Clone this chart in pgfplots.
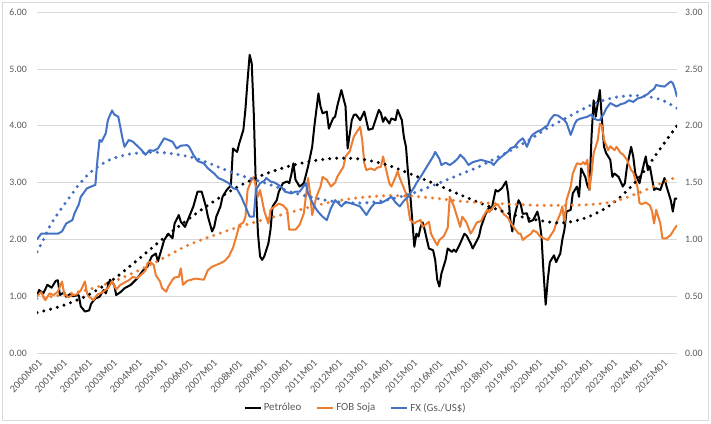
\documentclass[border=0pt]{standalone}
\usepackage{fontspec}
\setmainfont{Carlito}
\usepackage{pgfplots}
\pgfplotsset{compat=1.18}
\definecolor{soja}{HTML}{ED7D31}
\definecolor{fxb}{HTML}{4472C4}
\definecolor{gridc}{HTML}{D9D9D9}
\definecolor{labc}{HTML}{595959}
\begin{document}
\begin{tikzpicture}[x=1pt,y=1pt]
\path[use as bounding box] (0,0) rectangle (711,423);
\draw[gridc, line width=0.75pt] (2.5,2.5) rectangle (708.5,420.5);
\pgfplotsset{
  common/.style={
    at={(37pt,70pt)}, anchor=south west, scale only axis,
    width=640pt, height=340.8pt,
    xmin=0, xmax=307, ymin=0,
    axis line style={draw=none}, tick style={draw=none},
  },
  trend/.style={line width=3.4pt, dash pattern=on 0pt off 7pt, line cap=round, smooth, forget plot},
  series/.style={line width=2pt, line join=round},
}
\begin{axis}[common, ymax=6, ytick={0,1,2,3,4,5,6},
  ymajorgrids, grid style={gridc, line width=0.75pt},
  xtick={0,12,...,300},
  xticklabels={2000M01,2001M01,2002M01,2003M01,2004M01,2005M01,2006M01,2007M01,2008M01,2009M01,2010M01,2011M01,2012M01,2013M01,2014M01,2015M01,2016M01,2017M01,2018M01,2019M01,2020M01,2021M01,2022M01,2023M01,2024M01,2025M01},
  xticklabel style={xshift=1pt, yshift=-6pt, rotate=45, anchor=north east, inner sep=0pt, font=\fontsize{10.5}{12}\selectfont, text=labc},
  yticklabel style={anchor=east, inner sep=0pt, xshift=-10pt, font=\fontsize{9.8}{11}\selectfont, text=labc,
    /pgf/number format/fixed, /pgf/number format/fixed zerofill, /pgf/number format/precision=2, /pgf/number format/assume math mode=true},
  legend style={at={(0.498,-0.161)}, anchor=center, draw=none, fill=none, legend columns=3,
    font=\fontsize{10.9}{12}\selectfont, text=labc, inner sep=0pt,
    /tikz/every even column/.append style={column sep=13pt}},
  legend image code/.code={\draw[#1, line width=2pt] (0pt,0pt) -- (16pt,0pt);},
]
\addplot[series, black] coordinates {(0,1.00)(1,1.11)(3,1.05)(5,1.20)(7,1.15)(9,1.27)(10,1.28)(11,1.02)(13,1.07)(14,0.99)(16,1.04)(17,1.00)(20,1.02)(21,0.82)(23,0.73)(25,0.75)(26,0.87)(28,0.96)(30,0.99)(32,1.11)(33,1.05)(35,1.29)(37,1.20)(38,1.02)(40,1.07)(42,1.14)(45,1.20)(48,1.31)(51,1.46)(53,1.52)(55,1.70)(57,1.75)(58,1.61)(60,1.86)(61,1.99)(63,2.10)(65,2.02)(66,2.28)(68,2.43)(69,2.31)(71,2.22)(73,2.40)(75,2.58)(77,2.84)(79,2.84)(81,2.58)(82,2.40)(84,2.14)(85,2.22)(86,2.40)(88,2.58)(89,2.75)(91,2.87)(93,2.95)(94,3.60)(96,3.54)(97,3.69)(99,3.93)(100,4.30)(101,4.80)(102,5.25)(103,5.10)(104,4.20)(105,2.90)(106,2.10)(107,1.70)(108,1.64)(109,1.70)(111,1.93)(112,2.17)(113,2.58)(115,2.69)(116,2.84)(118,2.99)(120,3.02)(121,2.99)(122,3.14)(123,3.34)(124,3.05)(126,2.93)(128,2.99)(130,3.28)(132,3.63)(133,3.98)(135,4.57)(136,4.34)(137,4.22)(139,4.25)(140,3.95)(142,4.13)(143,4.16)(144,4.34)(146,4.63)(148,4.34)(149,3.60)(151,4.10)(152,4.19)(153,4.20)(155,4.10)(157,4.25)(159,3.93)(161,3.95)(164,4.28)(165,4.22)(166,4.07)(167,4.15)(169,4.04)(170,4.13)(172,4.10)(173,4.28)(175,4.10)(176,3.80)(177,3.63)(178,3.16)(179,2.81)(180,2.34)(181,1.87)(182,2.10)(183,2.05)(184,2.22)(185,2.30)(186,2.16)(188,1.84)(190,1.81)(191,1.64)(192,1.29)(193,1.17)(194,1.40)(196,1.64)(197,1.84)(199,1.78)(200,1.82)(201,1.78)(203,1.93)(205,2.10)(206,2.07)(208,1.93)(209,1.84)(212,2.05)(213,2.22)(215,2.43)(217,2.58)(218,2.52)(220,2.87)(221,2.84)(223,2.90)(225,3.02)(226,2.81)(227,2.35)(228,2.14)(229,2.40)(230,2.55)(231,2.69)(232,2.62)(233,2.45)(235,2.46)(236,2.31)(238,2.34)(240,2.49)(241,2.34)(242,2.05)(243,1.40)(244,0.85)(245,1.29)(246,1.60)(248,1.72)(249,1.60)(251,1.75)(252,2.00)(253,2.17)(254,2.49)(256,2.52)(257,2.81)(259,2.93)(260,2.75)(261,3.25)(263,3.10)(264,2.95)(265,2.87)(266,3.81)(267,4.45)(268,4.16)(269,4.40)(270,4.63)(271,4.10)(272,3.63)(273,3.52)(275,3.40)(276,3.10)(277,3.16)(279,3.10)(281,2.93)(282,2.99)(283,3.28)(285,3.63)(286,3.46)(287,3.16)(289,2.99)(290,3.16)(292,3.46)(293,3.22)(294,3.28)(296,2.87)(297,2.90)(299,2.87)(301,3.08)(302,2.93)(304,2.69)(305,2.49)(306,2.72)(307,2.72)};
\addlegendentry{Petróleo}
\addplot[series, soja] coordinates {(0,1.00)(2,1.07)(4,0.93)(6,1.05)(8,1.02)(10,1.08)(12,1.26)(13,1.05)(15,0.98)(17,1.02)(19,1.03)(21,1.10)(23,1.26)(24,1.05)(25,0.99)(27,0.93)(29,1.03)(31,1.06)(34,1.14)(36,1.26)(38,1.12)(40,1.20)(42,1.24)(44,1.28)(46,1.34)(48,1.32)(50,1.38)(52,1.45)(53,1.58)(54,1.61)(56,1.55)(57,1.37)(59,1.26)(60,1.14)(62,1.08)(63,1.17)(65,1.29)(66,1.33)(68,1.34)(69,1.49)(70,1.20)(72,1.27)(74,1.29)(76,1.31)(78,1.30)(80,1.29)(82,1.46)(84,1.52)(86,1.55)(88,1.58)(90,1.62)(91,1.66)(92,1.70)(94,1.85)(96,2.10)(97,2.25)(99,2.30)(100,2.40)(101,2.87)(103,3.05)(104,3.10)(105,2.93)(106,2.75)(107,2.87)(109,2.50)(111,2.28)(112,2.52)(114,2.58)(116,2.63)(118,2.60)(120,2.52)(121,2.17)(124,2.17)(126,2.26)(128,2.46)(130,3.08)(131,2.81)(132,2.43)(134,2.75)(136,2.93)(137,3.10)(139,3.05)(141,2.93)(143,3.00)(144,3.10)(145,3.16)(147,3.28)(148,3.46)(150,3.55)(152,3.81)(153,3.87)(155,3.98)(156,3.75)(157,3.34)(158,3.22)(160,3.25)(162,3.22)(163,3.26)(165,3.28)(166,3.46)(167,3.30)(169,2.99)(170,2.93)(172,3.10)(173,3.20)(174,3.08)(175,2.99)(177,2.81)(179,2.34)(181,2.28)(182,2.31)(184,2.34)(185,2.22)(188,2.31)(189,2.10)(191,1.96)(192,1.90)(193,1.99)(195,2.05)(197,2.20)(198,2.75)(200,2.58)(201,2.46)(203,2.22)(204,2.40)(206,2.30)(208,2.10)(209,2.16)(211,2.30)(213,2.32)(214,2.40)(216,2.52)(217,2.48)(219,2.58)(221,2.62)(223,2.50)(224,2.44)(226,2.38)(227,2.30)(229,2.20)(231,2.10)(232,2.10)(233,1.99)(235,2.05)(237,2.10)(238,2.16)(240,2.12)(241,2.06)(243,2.02)(245,1.99)(246,2.05)(248,2.16)(249,2.28)(251,2.45)(252,2.58)(253,2.28)(254,2.69)(256,2.93)(257,3.16)(259,3.34)(261,3.32)(262,3.36)(263,3.32)(264,3.40)(265,2.87)(266,3.16)(267,3.52)(268,3.63)(269,3.75)(270,4.04)(271,4.00)(272,3.75)(274,3.57)(275,3.64)(277,3.57)(278,3.63)(280,3.52)(281,3.50)(283,3.40)(285,3.22)(286,3.18)(288,2.93)(289,2.64)(290,2.62)(292,2.65)(294,2.60)(295,2.50)(296,2.28)(297,2.52)(299,2.28)(300,2.02)(302,2.02)(304,2.08)(306,2.20)(307,2.25)};
\addlegendentry{FOB Soja}
\addplot[trend, black] coordinates {(0,0.71)(12,0.83)(24,1.01)(36,1.28)(48,1.63)(60,2.00)(72,2.34)(84,2.65)(96,2.92)(108,3.13)(120,3.28)(132,3.38)(144,3.43)(156,3.41)(168,3.31)(180,3.14)(192,2.96)(204,2.77)(216,2.59)(228,2.44)(240,2.34)(252,2.29)(264,2.39)(276,2.63)(288,3.05)(300,3.65)(307,4.00)};
\addplot[trend, soja] coordinates {(0,0.96)(12,1.02)(24,1.11)(36,1.25)(48,1.44)(60,1.66)(72,1.89)(84,2.06)(96,2.21)(108,2.34)(120,2.46)(132,2.58)(144,2.68)(156,2.74)(168,2.77)(180,2.76)(192,2.72)(204,2.67)(216,2.64)(228,2.62)(240,2.60)(252,2.60)(264,2.61)(276,2.66)(288,2.81)(300,3.00)(307,3.10)};
\addlegendimage{fxb}
\addlegendentry{FX (Gs./US\$)}
\end{axis}
\begin{axis}[common, ymax=3, ytick={0,0.5,1,1.5,2,2.5,3}, xtick=\empty,
  axis y line*=right,
  yticklabel style={anchor=west, inner sep=0pt, xshift=8pt, font=\fontsize{9.8}{11}\selectfont, text=labc,
    /pgf/number format/fixed, /pgf/number format/fixed zerofill, /pgf/number format/precision=2, /pgf/number format/assume math mode=true},
]
\addplot[series, fxb] coordinates {(0,1.00)(2,1.05)(6,1.05)(10,1.05)(12,1.07)(14,1.14)(17,1.17)(18,1.23)(20,1.305)(21,1.375)(24,1.45)(26,1.465)(28,1.48)(29,1.70)(30,1.875)(31,1.86)(33,1.935)(34,2.05)(36,2.135)(37,2.10)(39,2.08)(41,1.89)(42,1.815)(44,1.875)(46,1.86)(48,1.825)(50,1.79)(52,1.745)(54,1.785)(56,1.78)(58,1.80)(61,1.89)(63,1.875)(65,1.86)(67,1.80)(69,1.825)(72,1.83)(73,1.815)(75,1.745)(77,1.69)(80,1.67)(82,1.625)(85,1.58)(87,1.54)(89,1.525)(92,1.495)(94,1.45)(96,1.44)(98,1.375)(100,1.29)(102,1.20)(104,1.20)(105,1.435)(107,1.495)(109,1.515)(110,1.54)(112,1.51)(114,1.50)(117,1.465)(119,1.42)(122,1.405)(124,1.42)(126,1.42)(129,1.495)(130,1.405)(133,1.29)(135,1.24)(137,1.20)(139,1.17)(141,1.275)(143,1.345)(145,1.31)(146,1.29)(148,1.33)(150,1.32)(152,1.31)(155,1.29)(158,1.215)(160,1.275)(162,1.32)(165,1.32)(168,1.35)(170,1.375)(172,1.325)(174,1.29)(176,1.34)(178,1.375)(179,1.405)(181,1.46)(182,1.495)(184,1.55)(186,1.61)(188,1.67)(190,1.73)(191,1.77)(193,1.71)(194,1.655)(196,1.675)(198,1.655)(200,1.68)(202,1.715)(203,1.745)(205,1.71)(207,1.655)(209,1.68)(211,1.69)(213,1.70)(215,1.69)(216,1.685)(218,1.675)(219,1.655)(221,1.70)(222,1.715)(224,1.745)(226,1.775)(227,1.80)(229,1.815)(231,1.86)(233,1.89)(234,1.86)(235,1.815)(237,1.905)(238,1.925)(240,1.95)(242,1.965)(243,1.98)(245,2.005)(246,2.05)(248,2.095)(250,2.09)(251,2.075)(253,2.05)(254,2.025)(256,1.92)(258,2.02)(259,2.05)(261,2.065)(262,2.07)(264,2.08)(266,2.10)(267,2.065)(269,2.05)(270,2.05)(272,2.11)(273,2.15)(275,2.20)(277,2.18)(278,2.17)(280,2.19)(282,2.20)(284,2.225)(286,2.21)(288,2.24)(290,2.25)(291,2.26)(293,2.28)(294,2.30)(296,2.325)(297,2.36)(299,2.35)(301,2.345)(302,2.36)(304,2.39)(305,2.375)(306,2.325)(307,2.255)};
\addplot[trend, fxb] coordinates {(0,0.89)(3,0.995)(6,1.11)(9,1.20)(12,1.28)(16,1.38)(20,1.48)(25,1.58)(30,1.65)(36,1.71)(44,1.75)(52,1.765)(60,1.765)(68,1.745)(76,1.715)(84,1.66)(92,1.60)(100,1.55)(108,1.505)(116,1.455)(124,1.405)(132,1.37)(140,1.34)(148,1.325)(156,1.32)(164,1.335)(172,1.365)(180,1.405)(188,1.46)(196,1.52)(204,1.58)(212,1.64)(220,1.715)(228,1.79)(236,1.875)(244,1.97)(252,2.05)(260,2.13)(268,2.20)(276,2.245)(284,2.265)(292,2.26)(300,2.225)(307,2.155)};
\end{axis}
\end{tikzpicture}
\end{document}
